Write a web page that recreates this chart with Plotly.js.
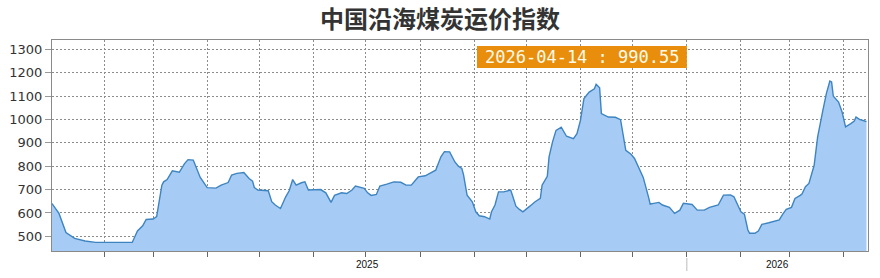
<!DOCTYPE html>
<html>
<head>
<meta charset="utf-8">
<script src="https://cdn.plot.ly/plotly-3.0.1.min.js"></script>
<style>html,body{margin:0;padding:0;background:#fff;}#chart{width:880px;height:278px;}</style>
</head>
<body>
<div id="chart"></div>
<script>
const chartTitle = "中国沿海煤炭运价指数";
const dates = [
"2025-01-02","2025-01-06","2025-01-10","2025-01-13","2025-01-15","2025-01-21","2025-01-27","2025-02-17","2025-02-20","2025-02-23",
"2025-02-25","2025-03-01","2025-03-03","2025-03-06","2025-03-07","2025-03-09","2025-03-12","2025-03-16","2025-03-19","2025-03-21",
"2025-03-24","2025-03-28","2025-04-01","2025-04-06","2025-04-09","2025-04-13","2025-04-15","2025-04-18","2025-04-22","2025-04-25",
"2025-04-27","2025-04-28","2025-04-30","2025-05-06","2025-05-08","2025-05-10","2025-05-13","2025-05-16","2025-05-18","2025-05-20",
"2025-05-22","2025-05-25","2025-05-27","2025-05-29","2025-06-05","2025-06-08","2025-06-11","2025-06-13","2025-06-17","2025-06-20",
"2025-06-23","2025-06-25","2025-06-30","2025-07-02","2025-07-04","2025-07-07","2025-07-09","2025-07-13","2025-07-17","2025-07-21",
"2025-07-24","2025-07-27","2025-07-31","2025-08-04","2025-08-07","2025-08-10","2025-08-13","2025-08-15","2025-08-18","2025-08-21",
"2025-08-23","2025-08-25","2025-08-26","2025-08-28","2025-08-31","2025-09-02","2025-09-04","2025-09-07","2025-09-10","2025-09-11",
"2025-09-13","2025-09-15","2025-09-18","2025-09-22","2025-09-23","2025-09-25","2025-09-27","2025-09-29","2025-10-03","2025-10-06",
"2025-10-09","2025-10-10","2025-10-13","2025-10-14","2025-10-16","2025-10-18","2025-10-21","2025-10-24","2025-10-28","2025-10-30",
"2025-11-01","2025-11-03","2025-11-06","2025-11-09","2025-11-10","2025-11-12","2025-11-13","2025-11-17","2025-11-21","2025-11-24",
"2025-11-27","2025-11-30","2025-12-02","2025-12-05","2025-12-07","2025-12-10","2025-12-11","2025-12-13","2025-12-16","2025-12-18",
"2025-12-20","2025-12-22","2025-12-25","2025-12-28","2025-12-30","2026-01-04","2026-01-07","2026-01-11","2026-01-14","2026-01-19",
"2026-01-22","2026-01-26","2026-01-28","2026-01-30","2026-02-01","2026-02-03","2026-02-05","2026-02-06","2026-02-09","2026-02-11",
"2026-02-13","2026-02-17","2026-02-21","2026-02-23","2026-02-25","2026-02-27","2026-03-02","2026-03-04","2026-03-07","2026-03-08",
"2026-03-10","2026-03-12","2026-03-15","2026-03-17","2026-03-20","2026-03-22","2026-03-24","2026-03-25","2026-03-26","2026-03-29",
"2026-03-31","2026-04-02","2026-04-05","2026-04-07","2026-04-08","2026-04-10","2026-04-13","2026-04-14"
];
const indexValues = [
640,598,516,503,491,480,474,474,523,545,
572,574,584,719,733,743,780,774,811,828,
826,752,708,706,719,730,762,769,773,747,
736,709,698,695,648,634,619,669,695,743,
719,729,733,698,700,686,645,675,686,683,
698,715,705,686,675,679,715,723,733,731,
719,719,754,759,772,783,840,862,861,818,
800,790,762,676,648,605,588,584,574,605,
634,690,690,698,676,629,615,605,629,648,
662,719,757,840,904,953,967,928,918,939,
996,1089,1117,1131,1150,1135,1025,1010,1009,999,
868,851,833,786,752,669,638,641,645,634,
629,624,598,612,641,636,612,612,624,634,
676,677,669,634,605,595,527,513,513,523,
551,558,567,570,595,615,624,662,675,681,
712,726,804,925,1039,1110,1164,1160,1099,1074,
1032,968,982,993,1010,1000,993,990.55
];
const monthTicks = ["2025-02-01","2025-03-01","2025-04-01","2025-05-01","2025-06-01","2025-07-01","2025-08-01","2025-09-01","2025-10-01","2025-11-01","2025-12-01","2026-01-01","2026-02-01","2026-03-01","2026-04-01"];
const yTicks = [500,600,700,800,900,1000,1100,1200,1300];
const yearLabels = ["2025","2026"];
const yearLabelDates = ["2025-07-02","2026-02-22"];
const yearDivider = "2026-01-01";
const lastDate = dates[dates.length-1];
const lastValue = indexValues[indexValues.length-1];

const trace = {
  x: dates, y: indexValues, type: "scatter", mode: "lines",
  fill: "tozeroy", fillcolor: "rgb(166,204,245)",
  line: {color: "rgb(62,132,192)", width: 1.4},
  hoverinfo: "x+y"
};

const annotations = yearLabels.map((t,i)=>({
  text: t, x: yearLabelDates[i], xref: "x", y: -0.066, yref: "paper",
  showarrow: false, xanchor: "center", yanchor: "middle",
  font: {family: "Liberation Sans, Arial, sans-serif", size: 10, color: "#111"}
}));
annotations.push({
  text: lastDate + " : " + lastValue.toFixed(2),
  x: 0.6495, xref: "paper", y: 0.919, yref: "paper",
  showarrow: false, xanchor: "center", yanchor: "middle",
  font: {family: "DejaVu Sans Mono, monospace", size: 17, color: "#fffbe8"}
});

const layout = {
  width: 880, height: 278,
  margin: {l: 52, r: 12, t: 40, b: 27},
  paper_bgcolor: "#fff", plot_bgcolor: "#fff",
  showlegend: false,
  title: {text: chartTitle, x: 0.5, xanchor: "center", y: 0.928, yanchor: "middle", yref: "container",
          font: {family: "Noto Sans CJK SC, sans-serif", size: 24, color: "#333", weight: "bold"}},
  xaxis: {
    type: "date", range: ["2025-01-02", "2026-04-14 21:00"],
    tickmode: "array", tickvals: monthTicks, ticktext: monthTicks.map(()=>""),
    ticks: "outside", ticklen: 5, tickcolor: "#666", tickwidth: 1,
    showgrid: true, gridcolor: "#8c8c8c", griddash: "2px,2px", gridwidth: 1,
    showline: true, linecolor: "#8a8a8a", linewidth: 1, mirror: true,
    zeroline: false, fixedrange: true
  },
  yaxis: {
    range: [437.3, 1339.5],
    tickmode: "array", tickvals: yTicks,
    ticks: "outside", ticklen: 6, tickcolor: "#999", tickwidth: 1,
    tickfont: {family: "DejaVu Sans, sans-serif", size: 13, color: "#333"},
    showgrid: true, gridcolor: "#8c8c8c", griddash: "2px,2px", gridwidth: 1,
    showline: true, linecolor: "#8a8a8a", linewidth: 1, mirror: true,
    zeroline: false, fixedrange: true
  },
  shapes: [
    {type: "rect", xref: "paper", yref: "paper", x0: 0.5208, x1: 0.778, y0: 0.867, y1: 0.9716,
     fillcolor: "rgb(232,142,12)", line: {width: 0}, layer: "above"},
    {type: "line", xref: "x", yref: "paper", x0: yearDivider, x1: yearDivider, y0: -0.033, y1: -0.095,
     line: {color: "#bbbbbb", width: 1}}
  ],
  annotations: annotations
};

Plotly.newPlot("chart", [trace], layout, {displayModeBar: false, staticPlot: true});
</script>
</body>
</html>
